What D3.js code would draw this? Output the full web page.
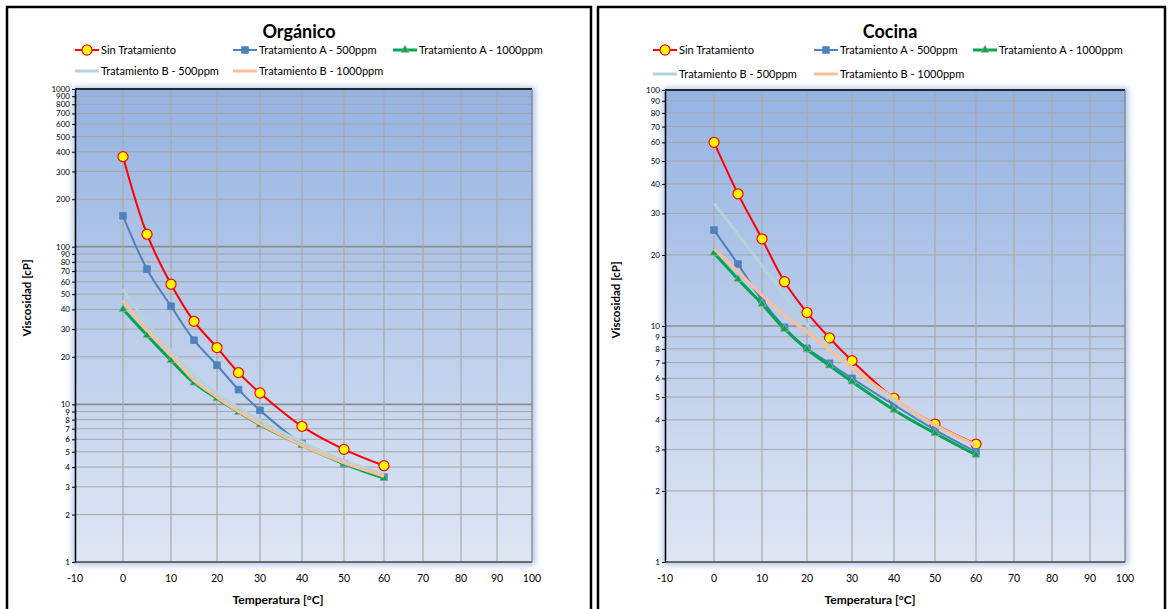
<!DOCTYPE html>
<html>
<head>
<meta charset="utf-8">
<script src="https://cdn.jsdelivr.net/npm/d3@7"></script>
<style>
  body { margin: 0; background: #fff; }
  svg text { font-family: Lato, "Open Sans", sans-serif; fill: #000; }
</style>
</head>
<body>
<div class="chart"></div>
<script>
// === Data ===
const temps = [0, 5, 10, 15, 20, 25, 30, 40, 50, 60];
const xTicks = [-10, 0, 10, 20, 30, 40, 50, 60, 70, 80, 90, 100];
const orgTicks = [1, 2, 3, 4, 5, 6, 7, 8, 9, 10, 20, 30, 40, 50, 60, 70, 80, 90, 100,
                  200, 300, 400, 500, 600, 700, 800, 900, 1000];
const cocTicks = [1, 2, 3, 4, 5, 6, 7, 8, 9, 10, 20, 30, 40, 50, 60, 70, 80, 90, 100];

const seriesNames = ["Sin Tratamiento", "Tratamiento A - 500ppm", "Tratamiento A - 1000ppm",
                     "Tratamiento B - 500ppm", "Tratamiento B - 1000ppm"];

// Orgánico
const orgSin   = [372, 120, 57.8, 33.6, 22.9, 15.9, 11.8, 7.25, 5.18, 4.08];
const orgA500  = [157, 72, 41.9, 25.5, 17.7, 12.4, 9.16, 5.63, 4.2, 3.45];
const orgA1000 = [40.1, 27.4, 19.0, 13.7, 10.9, 8.93, 7.43, 5.49, 4.2, 3.4];
const orgB500  = [53.5, 33, 22, 15.3, 11.7, 9.5, 7.9, 5.77, 4.37, 3.6];
const orgB1000 = [45.7, 29.5, 20.5, 14.2, 11.1, 9.0, 7.5, 5.5, 4.25, 3.5];

// Cocina
const cocSin   = [60, 36.3, 23.4, 15.4, 11.4, 8.9, 7.13, 4.94, 3.84, 3.16];
const cocA500  = [25.5, 18.3, 12.9, 9.87, 8.04, 6.95, 6.0, 4.63, 3.63, 2.93];
const cocA1000 = [20.4, 15.8, 12.4, 9.71, 7.97, 6.79, 5.81, 4.41, 3.51, 2.84];
const cocB500  = [33.1, 24.5, 18, 13.5, 10.1, 8.2, 6.7, 4.8, 3.8, 3.1];
const cocB1000 = [21.2, 17, 13.5, 11.1, 9.46, 7.9, 6.62, 4.94, 3.8, 3.13];

// series styles
const styles = [
  {color: "#ff0000", width: 2,   marker: "circle"},
  {color: "#4f81bd", width: 2,   marker: "square"},
  {color: "#00a651", width: 3,   marker: "triangle"},
  {color: "#b4d3dd", width: 3,   marker: null},
  {color: "#f9bf9b", width: 3,   marker: null}
];

const svg = d3.select(".chart").append("svg")
    .attr("width", 1170)
    .attr("height", 609);

// soft glow behind plot areas
const defs = svg.append("defs");
defs.append("filter").attr("id", "glow")
    .attr("x", "-10%").attr("y", "-10%").attr("width", "120%").attr("height", "120%")
  .append("feGaussianBlur").attr("stdDeviation", 3);
const grad = defs.append("linearGradient").attr("id", "bg")
    .attr("x1", 0).attr("y1", 0).attr("x2", 0).attr("y2", 1);
grad.append("stop").attr("offset", "0%").attr("stop-color", "#95b3e2");
grad.append("stop").attr("offset", "100%").attr("stop-color", "#dfe6f3");

function drawChart(cfg) {
    const g = svg.append("g");

    // outer frame
    g.append("rect")
        .attr("x", cfg.frame[0]).attr("y", cfg.frame[1])
        .attr("width", cfg.frame[2]).attr("height", cfg.frame[3])
        .attr("fill", "#fff").attr("stroke", "#000").attr("stroke-width", 2.5);

    const x = d3.scaleLinear().domain(xTicks).range(cfg.xRange);
    const y = d3.scaleLog().domain(cfg.yDomain).range(cfg.yRange);

    const left = cfg.xRange[0], right = cfg.xRange[cfg.xRange.length - 1];
    const top = cfg.yRange[1], bottom = cfg.yRange[0];

    // plot background + glow
    g.append("rect")
        .attr("x", left - 2).attr("y", top - 2)
        .attr("width", right - left + 5).attr("height", bottom - top + 5)
        .attr("fill", "#a9c1e6").attr("filter", "url(#glow)");
    g.append("rect")
        .attr("x", left).attr("y", top)
        .attr("width", right - left).attr("height", bottom - top)
        .attr("fill", "url(#bg)");

    // horizontal grid
    g.selectAll(".hgrid")
        .data(cfg.yTicks)
        .enter().append("line")
        .attr("x1", left).attr("x2", right)
        .attr("y1", d => y(d)).attr("y2", d => y(d))
        .attr("stroke", d => Number.isInteger(Math.log10(d)) ? "#8c8c8c" : "#a6a6a6")
        .attr("stroke-width", d => Number.isInteger(Math.log10(d)) ? 1.6 : 1);

    // vertical grid
    g.selectAll(".vgrid")
        .data(xTicks.slice(1, -1))
        .enter().append("line")
        .attr("x1", d => x(d)).attr("x2", d => x(d))
        .attr("y1", top).attr("y2", bottom)
        .attr("stroke", "#a9a9a9").attr("stroke-width", 1.2);

    // plot borders
    g.append("line").attr("x1", left).attr("x2", right).attr("y1", top).attr("y2", top)
        .attr("stroke", "#000").attr("stroke-width", 1.5);
    g.append("line").attr("x1", right).attr("x2", right).attr("y1", top).attr("y2", bottom)
        .attr("stroke", "#808080").attr("stroke-width", 1.2);
    g.append("line").attr("x1", left).attr("x2", right).attr("y1", bottom).attr("y2", bottom)
        .attr("stroke", "#595959").attr("stroke-width", 1.5);

    // y axis
    const yAxis = d3.axisLeft(y)
        .tickValues(cfg.yTicks)
        .tickFormat(d3.format("d"))
        .tickSizeInner(3).tickSizeOuter(0).tickPadding(2);
    const ya = g.append("g")
        .attr("transform", `translate(${left},0)`)
        .call(yAxis);
    ya.select(".domain").attr("stroke", "#000").attr("stroke-width", 1.5);
    ya.selectAll("text").attr("font-size", "8px");

    // x axis labels
    g.selectAll(".xlab")
        .data(xTicks)
        .enter().append("text")
        .attr("x", d => x(d))
        .attr("y", bottom + 20)
        .attr("text-anchor", "middle")
        .attr("font-size", "10.5px")
        .text(d => d);

    // titles
    g.append("text")
        .attr("x", cfg.titleX).attr("y", 38)
        .attr("text-anchor", "middle")
        .attr("font-size", "18px").attr("font-weight", "bold")
        .text(cfg.title);

    g.append("text")
        .attr("x", cfg.xTitleX).attr("y", 604)
        .attr("text-anchor", "middle")
        .attr("font-size", "12px").attr("font-weight", "bold")
        .text("Temperatura [°C]");

    g.append("text")
        .attr("transform", `translate(${cfg.yTitleX},${cfg.yTitleY}) rotate(-90)`)
        .attr("text-anchor", "middle")
        .attr("font-size", "11.5px").attr("font-weight", "bold")
        .text("Viscosidad [cP]");

    // === Series ===
    const line = d3.line()
        .x(d => x(d[0]))
        .y(d => y(d[1]))
        .curve(d3.curveCatmullRom.alpha(0.5));

    cfg.series.forEach((vals, i) => {
        const st = styles[i];
        const pts = temps.map((t, k) => [t, vals[k]]);
        g.append("path")
            .datum(pts)
            .attr("d", line)
            .attr("fill", "none")
            .attr("stroke", st.color)
            .attr("stroke-width", st.width);
        if (st.marker) {
            g.selectAll(null)
                .data(pts)
                .enter().append("path")
                .attr("transform", d => `translate(${x(d[0])},${y(d[1])})`)
                .call(drawMarker, st);
        }
    });

    // === Legend ===
    cfg.legend.forEach((pos, i) => {
        const st = styles[i];
        const lg = g.append("g").attr("transform", `translate(${pos[0]},${pos[1]})`);
        lg.append("line").attr("x1", 0).attr("x2", 24).attr("y1", 0).attr("y2", 0)
            .attr("stroke", st.color).attr("stroke-width", st.width);
        if (st.marker) {
            lg.append("path").attr("transform", "translate(12,0)").call(drawMarker, st);
        }
        lg.append("text")
            .attr("x", 26).attr("y", 4)
            .attr("font-size", "11px")
            .text(seriesNames[i]);
    });
}

function drawMarker(sel, st) {
    if (st.marker === "circle") {
        sel.attr("d", d3.symbol(d3.symbolCircle, 80))
            .attr("fill", "#ffff00").attr("stroke", "#ff0000").attr("stroke-width", 1.2);
    } else if (st.marker === "square") {
        sel.attr("d", d3.symbol(d3.symbolSquare, 45))
            .attr("fill", "#4f81bd").attr("stroke", "#4f81bd").attr("stroke-width", 0.8);
    } else {
        sel.attr("d", d3.symbol(d3.symbolTriangle, 28))
            .attr("fill", "#00a651").attr("stroke", "#a0a8a0").attr("stroke-width", 0.8);
    }
}

drawChart({
    title: "Orgánico",
    titleX: 299,
    frame: [7, 7, 584, 612],
    xRange: [75, 123, 171, 217, 260, 302, 344, 384, 423, 461, 497, 532],
    yDomain: [1, 1000],
    yRange: [562, 89],
    yTicks: orgTicks,
    xTitleX: 278,
    yTitleX: 31, yTitleY: 298,
    series: [orgSin, orgA500, orgA1000, orgB500, orgB1000],
    legend: [[75, 50], [233, 50], [393, 50], [75, 71], [233, 71]]
});

drawChart({
    title: "Cocina",
    titleX: 890,
    frame: [598, 7, 567, 612],
    xRange: [665, 714, 762, 807, 852, 894, 935, 976, 1014, 1052, 1090, 1125],
    yDomain: [1, 100],
    yRange: [562, 90],
    yTicks: cocTicks,
    xTitleX: 870,
    yTitleX: 620, yTitleY: 300,
    series: [cocSin, cocA500, cocA1000, cocB500, cocB1000],
    legend: [[653, 50], [814, 50], [973, 50], [653, 74], [814, 74]]
});
</script>
</body>
</html>
